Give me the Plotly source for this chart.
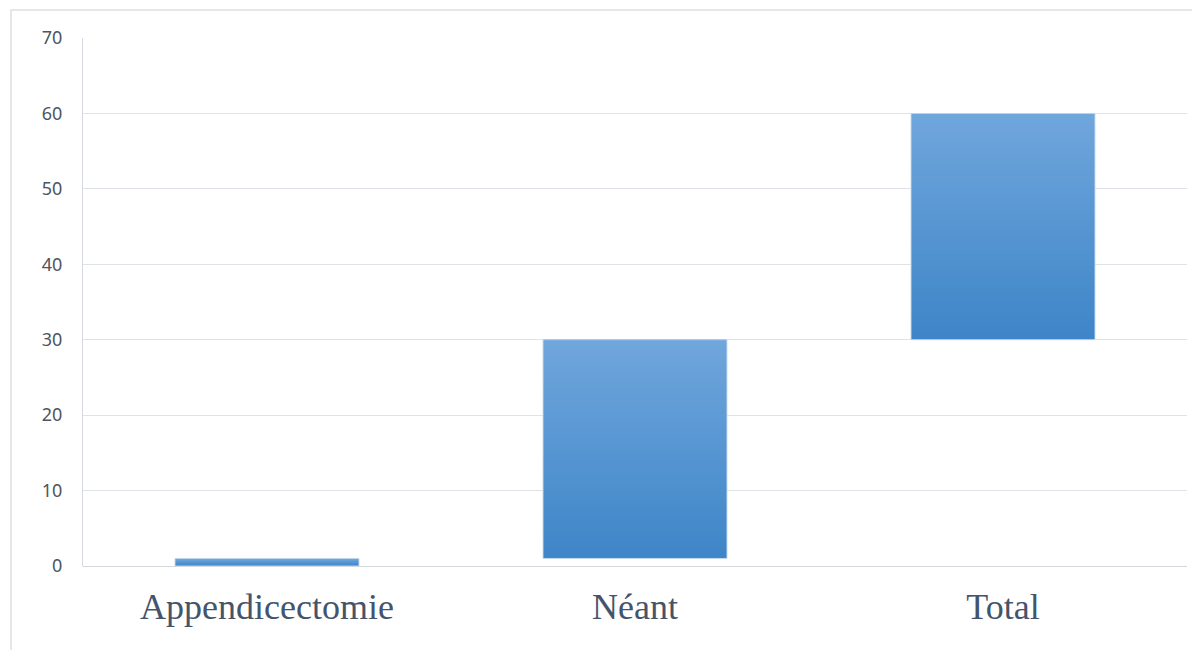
import plotly.graph_objects as go

categories = ["Appendicectomie", "Néant", "Total"]
bar_start = [0, 1, 30]
bar_end = [1, 30, 60]
y_ticks = [0, 10, 20, 30, 40, 50, 60, 70]

top_rgb = (112, 166, 220)
bot_rgb = (62, 133, 200)
N = 40

fig = go.Figure()
for k in range(N):
    t = (k + 0.5) / N
    r = round(bot_rgb[0] + (top_rgb[0] - bot_rgb[0]) * t)
    g = round(bot_rgb[1] + (top_rgb[1] - bot_rgb[1]) * t)
    b = round(bot_rgb[2] + (top_rgb[2] - bot_rgb[2]) * t)
    bases = [s + (e - s) * k / N for s, e in zip(bar_start, bar_end)]
    heights = [e - bs for bs, e in zip(bases, bar_end)]
    fig.add_trace(go.Bar(
        x=categories, y=heights, base=bases,
        marker=dict(color=f"rgb({r},{g},{b})", line=dict(width=0)),
        width=0.5, showlegend=False, hoverinfo="skip",
    ))
# faint outline
fig.add_trace(go.Bar(
    x=categories, y=[e - s for s, e in zip(bar_start, bar_end)], base=bar_start,
    marker=dict(color="rgba(0,0,0,0)", line=dict(width=1, color="rgba(200,220,240,0.9)")),
    width=0.5, showlegend=False, hoverinfo="skip",
))

fig.update_layout(
    barmode="overlay",
    width=1192, height=650,
    margin=dict(l=83, r=5, t=38, b=84),
    paper_bgcolor="white", plot_bgcolor="white",
    bargap=0.5,
    xaxis=dict(
        type="category", showgrid=False, zeroline=False,
        showline=False, ticks="",
        tickfont=dict(family="Liberation Serif", size=36, color="#44546a"),
        ticklabelstandoff=16,
    ),
    yaxis=dict(
        range=[0, 70], tickvals=y_ticks, showgrid=True,
        gridcolor="#dfe3e8", gridwidth=1,
        zeroline=True, zerolinecolor="#d3d6da", zerolinewidth=1,
        showline=True, linecolor="#d6dae0", linewidth=1,
        ticks="", ticklabelstandoff=16,
        tickfont=dict(family="Noto Sans", size=18, color="#4d5560"),
    ),
    shapes=[dict(
        type="rect", xref="paper", yref="paper",
        x0=-0.0652, x1=1.02, y0=-0.2, y1=1.053,
        line=dict(color="#dcdfe3", width=1.5), fillcolor="rgba(0,0,0,0)", layer="below",
    )],
)

fig.write_html("out.html")
